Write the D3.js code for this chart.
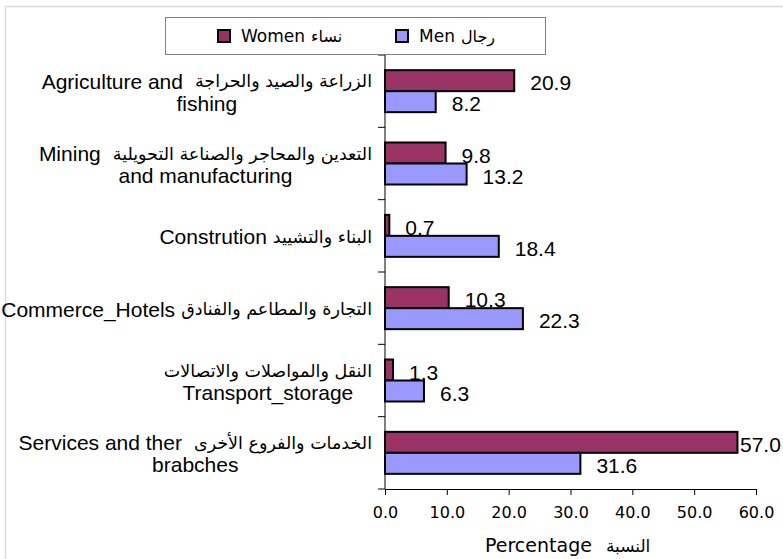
<!DOCTYPE html>
<html>
<head>
<meta charset="utf-8">
<script src="https://cdn.jsdelivr.net/npm/d3@7"></script>
<style>
  html, body { margin: 0; padding: 0; background: #fff; }
  svg { display: block; }
</style>
</head>
<body>
<svg id="chart" width="783" height="559"></svg>
<script>
// ---- data ----
const categories = [
  ["الزراعة والصيد والحراجة  Agriculture and", "fishing"],
  ["التعدين والمحاجر والصناعة التحويلية  Mining", "and manufacturing"],
  ["البناء والتشييد Constrution"],
  ["التجارة والمطاعم والفنادق Commerce_Hotels"],
  ["النقل والمواصلات والاتصالات", "Transport_storage"],
  ["الخدمات والفروع الأخرى  Services and ther", "brabches"]
];
const seriesNames = [["Women", "نساء"], ["Men", "رجال"]];
const women = [20.9, 9.8, 0.7, 10.3, 1.3, 57.0];
const men = [8.2, 13.2, 18.4, 22.3, 6.3, 31.6];
const xTicks = [0, 10, 20, 30, 40, 50, 60];
const xTitle = ["Percentage", "النسبة"];
const colors = ["#993366", "#9999FF"];

// ---- layout ----
const svg = d3.select("#chart");
const plot = { left: 385, right: 756, top: 55, bottom: 489 };
const latinFont = "'Liberation Sans', Arial, sans-serif";
const arabicFont = "'DejaVu Sans', sans-serif";
const axisFont = "'DejaVu Sans', Verdana, sans-serif";
const isArabic = s => /[\u0600-\u06FF]/.test(s);

// outer border
svg.append("rect").attr("x", 5.5).attr("y", 6.5).attr("width", 790).attr("height", 570)
  .attr("fill", "none").attr("stroke", "#d9d9d9").attr("stroke-width", 1.5);

const x = d3.scaleLinear().domain([0, 60]).range([plot.left, plot.right]);
const idx = categories.map((d, i) => i);
const y = d3.scaleBand().domain(idx).range([plot.top, plot.bottom]).padding(0);
const barH = 21;
const sub = d3.scaleBand().domain([0, 1]).range([0, barH * 2]);
const offset = (y.bandwidth() - barH * 2) / 2;

const series = [women, men];

// bars
series.forEach((vals, s) => {
  svg.append("g").selectAll("rect").data(vals).join("rect")
    .attr("x", x(0))
    .attr("y", (d, i) => y(i) + offset + sub(s))
    .attr("width", d => x(d) - x(0))
    .attr("height", sub.bandwidth())
    .attr("fill", colors[s])
    .attr("stroke", "#000").attr("stroke-width", 2);
});

// value labels
series.forEach((vals, s) => {
  svg.append("g").selectAll("text").data(vals).join("text")
    .attr("x", d => Math.min(x(d) + 16, 740))
    .attr("y", (d, i) => y(i) + offset + sub(s) + sub.bandwidth() / 2 + 2)
    .attr("dominant-baseline", "central")
    .attr("font-family", latinFont).attr("font-size", 21)
    .attr("fill", "#000")
    .text(d => d.toFixed(1));
});

// y axis
const yAxisG = svg.append("g");
yAxisG.append("line").attr("x1", plot.left).attr("x2", plot.left)
  .attr("y1", plot.top).attr("y2", plot.bottom).attr("stroke", "#000").attr("stroke-width", 1);
const bounds = idx.map(i => y(i)).concat([plot.bottom]);
yAxisG.selectAll("line.tick").data(bounds).join("line").attr("class", "tick")
  .attr("x1", plot.left - 7).attr("x2", plot.left)
  .attr("y1", d => d).attr("y2", d => d).attr("stroke", "#000");

// x axis
const xAxis = d3.axisBottom(x).tickValues(xTicks).tickFormat(d => d.toFixed(1)).tickSize(6).tickPadding(12);
const xg = svg.append("g").attr("transform", `translate(0,${plot.bottom})`).call(xAxis);
xg.select(".domain").attr("stroke", "#000");
xg.selectAll(".tick line").attr("stroke", "#000");
xg.selectAll("text").attr("font-family", axisFont).attr("font-size", 16).attr("fill", "#000");

const tt = svg.append("text").attr("x", 485).attr("y", 552)
  .attr("text-anchor", "start").attr("fill", "#000");
tt.append("tspan").attr("font-family", axisFont).attr("font-size", 19).text(xTitle[0]);
tt.append("tspan").attr("font-family", arabicFont).attr("font-size", 17).attr("dx", 14).text(xTitle[1]);

// split a line into script runs (logical order)
function runsOf(line) {
  const words = line.split(/(\s+)/);
  const runs = [];
  words.forEach(w => {
    if (/^\s+$/.test(w)) { if (runs.length) runs[runs.length - 1].gap += w.length; return; }
    if (!w) return;
    const ar = isArabic(w);
    const last = runs[runs.length - 1];
    if (last && last.ar === ar && last.gap > 0 && last.gap < 2) { last.text += " " + w; last.gap = 0; }
    else if (last && last.ar === ar && last.gap === 0) { last.text += w; }
    else runs.push({ text: w, ar, gap: 0 });
  });
  return runs;
}

// category labels
const labelRight = 372;
const lineGap = 22;
const spaceW = 6;
categories.forEach((lines, i) => {
  const cy = y(i) + y.bandwidth() / 2;
  const g = svg.append("g");
  const built = lines.map((line, k) => {
    const ly = cy + (k - (lines.length - 1) / 2) * lineGap + 1;
    const runs = runsOf(line);
    // visual order in an RTL paragraph: reversed run order
    const visual = runs.slice().reverse();
    const items = visual.map(r => {
      const t = g.append("text")
        .attr("font-family", r.ar ? arabicFont : latinFont)
        .attr("font-size", r.ar ? 17.5 : 21)
        .attr("fill", "#000")
        .attr("dominant-baseline", "central")
        .attr("y", ly)
        .text(r.text);
      return { t, w: t.node().getComputedTextLength(), gap: r.gap };
    });
    let total = 0;
    items.forEach((it, j) => {
      total += it.w;
      if (j < items.length - 1) total += Math.max(1, items[j + 1].gap) * spaceW;
    });
    return { items, total };
  });
  const maxW = d3.max(built, b => b.total);
  built.forEach(b => {
    let cx = labelRight - maxW / 2 - b.total / 2;
    b.items.forEach((it, j) => {
      it.t.attr("x", cx);
      cx += it.w;
      if (j < b.items.length - 1) cx += Math.max(1, b.items[j + 1].gap) * spaceW;
    });
  });
});

// legend
const lg = svg.append("g");
lg.append("rect").attr("x", 165.5).attr("y", 17.5).attr("width", 380).attr("height", 37)
  .attr("fill", "#fff").attr("stroke", "#808080").attr("stroke-width", 1);
const legendX = [218, 396];
seriesNames.forEach((name, s) => {
  lg.append("rect").attr("x", legendX[s]).attr("y", 30).attr("width", 12).attr("height", 12)
    .attr("fill", colors[s]).attr("stroke", "#000").attr("stroke-width", 2);
  const t = lg.append("text").attr("x", legendX[s] + 23).attr("y", 36)
    .attr("dominant-baseline", "central").attr("fill", "#000");
  t.append("tspan").attr("font-family", axisFont).attr("font-size", 17).text(name[0]);
  t.append("tspan").attr("font-family", arabicFont).attr("font-size", 16).attr("dx", 6).text(name[1]);
});
</script>
</body>
</html>
